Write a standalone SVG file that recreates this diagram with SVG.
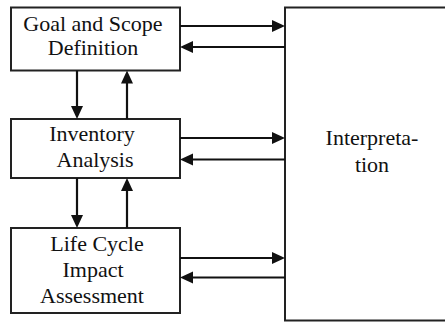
<svg xmlns="http://www.w3.org/2000/svg" width="445" height="322" viewBox="0 0 445 322">
<style>
.box{fill:#fff;stroke:#222;stroke-width:2}
.t{fill:#111;text-anchor:middle}
.c{stroke:#111;stroke-width:2.2;fill:none}
.h{fill:#111}
</style>
<rect width="445" height="322" fill="#fff"/>
<g id="goal">
<rect class="box" x="11" y="7.5" width="169" height="63"/>
<text class="t" x="93" y="31" font-family="Liberation Serif" font-size="22">Goal and Scope</text>
<text class="t" x="93" y="55" font-family="Liberation Serif" font-size="22">Definition</text>
</g>
<g id="inventory">
<rect class="box" x="11" y="119" width="169" height="59"/>
<text class="t" x="92" y="141" font-family="Liberation Serif" font-size="22">Inventory</text>
<text class="t" x="95" y="167" font-family="Liberation Serif" font-size="22">Analysis</text>
</g>
<g id="lcia">
<rect class="box" x="11" y="228" width="169" height="85"/>
<text class="t" x="97" y="251" font-family="Liberation Serif" font-size="22">Life Cycle</text>
<text class="t" x="93" y="277" font-family="Liberation Serif" font-size="22">Impact</text>
<text class="t" x="92" y="303" font-family="Liberation Serif" font-size="22">Assessment</text>
</g>
<g id="interpretation">
<rect class="box" x="285" y="7.5" width="170" height="313"/>
<text class="t" x="372" y="145" font-family="Liberation Serif" font-size="22">Interpreta-</text>
<text class="t" x="372" y="172" font-family="Liberation Serif" font-size="22">tion</text>
</g>
<g id="connectors">
<line class="c" x1="180" y1="26" x2="273" y2="26"/>
<polygon class="h" points="272,20 285,26 272,32"/>
<line class="c" x1="285" y1="47" x2="192" y2="47"/>
<polygon class="h" points="193,41 180,47 193,53"/>
<line class="c" x1="180" y1="138" x2="273" y2="138"/>
<polygon class="h" points="272,132 285,138 272,144"/>
<line class="c" x1="285" y1="159.5" x2="192" y2="159.5"/>
<polygon class="h" points="193,153.5 180,159.5 193,165.5"/>
<line class="c" x1="180" y1="258" x2="273" y2="258"/>
<polygon class="h" points="272,252 285,258 272,264"/>
<line class="c" x1="285" y1="277.5" x2="192" y2="277.5"/>
<polygon class="h" points="193,271.5 180,277.5 193,283.5"/>
<line class="c" x1="77" y1="70.5" x2="77" y2="107"/>
<polygon class="h" points="71,106 77,119 83,106"/>
<line class="c" x1="127" y1="119" x2="127" y2="82.5"/>
<polygon class="h" points="121,83.5 127,70.5 133,83.5"/>
<line class="c" x1="77" y1="178" x2="77" y2="216"/>
<polygon class="h" points="71,215 77,228 83,215"/>
<line class="c" x1="127" y1="228" x2="127" y2="190"/>
<polygon class="h" points="121,191 127,178 133,191"/>
</g>
</svg>
